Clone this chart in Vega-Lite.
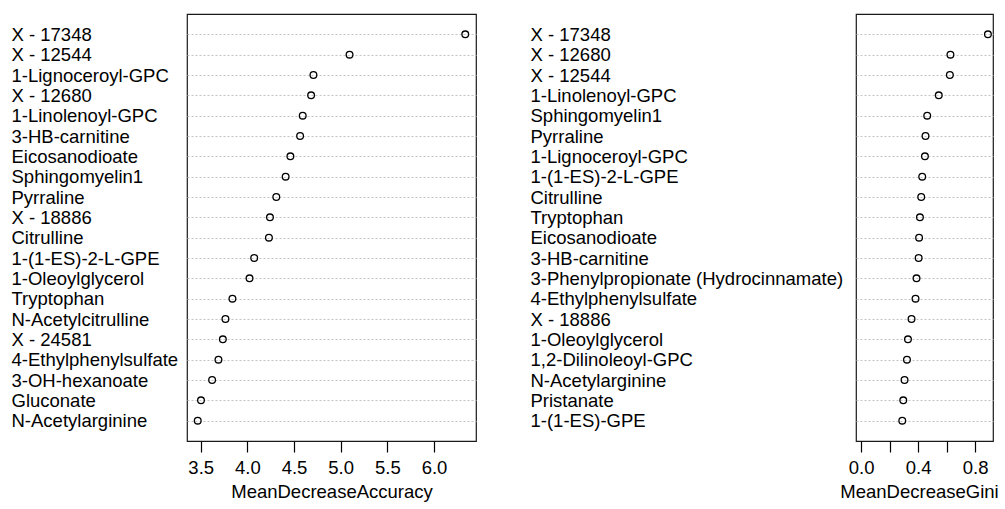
{
  "$schema": "https://vega.github.io/schema/vega-lite/v6.json",
  "padding": {"left": 10, "top": 13, "right": 0, "bottom": 0},
  "spacing": 52,
  "config": {
    "font": "Liberation Sans",
    "view": {"stroke": "#1a1a1a", "strokeWidth": 1.2},
    "axis": {
      "labelFont": "Liberation Sans",
      "titleFont": "Liberation Sans",
      "labelColor": "#000000",
      "titleColor": "#000000",
      "labelFontSize": 18.5,
      "titleFontSize": 18.5,
      "titleFontWeight": "normal",
      "labelLimit": 0
    }
  },
  "datasets": {
    "accuracy": [
      {"variable": "X - 17348", "MeanDecreaseAccuracy": 6.335},
      {"variable": "X - 12544", "MeanDecreaseAccuracy": 5.095},
      {"variable": "1-Lignoceroyl-GPC", "MeanDecreaseAccuracy": 4.708},
      {"variable": "X - 12680", "MeanDecreaseAccuracy": 4.683},
      {"variable": "1-Linolenoyl-GPC", "MeanDecreaseAccuracy": 4.593},
      {"variable": "3-HB-carnitine", "MeanDecreaseAccuracy": 4.565},
      {"variable": "Eicosanodioate", "MeanDecreaseAccuracy": 4.461},
      {"variable": "Sphingomyelin1", "MeanDecreaseAccuracy": 4.41},
      {"variable": "Pyrraline", "MeanDecreaseAccuracy": 4.31},
      {"variable": "X - 18886", "MeanDecreaseAccuracy": 4.242},
      {"variable": "Citrulline", "MeanDecreaseAccuracy": 4.231},
      {"variable": "1-(1-ES)-2-L-GPE", "MeanDecreaseAccuracy": 4.073},
      {"variable": "1-Oleoylglycerol", "MeanDecreaseAccuracy": 4.023},
      {"variable": "Tryptophan", "MeanDecreaseAccuracy": 3.84},
      {"variable": "N-Acetylcitrulline", "MeanDecreaseAccuracy": 3.765},
      {"variable": "X - 24581", "MeanDecreaseAccuracy": 3.737},
      {"variable": "4-Ethylphenylsulfate", "MeanDecreaseAccuracy": 3.69},
      {"variable": "3-OH-hexanoate", "MeanDecreaseAccuracy": 3.622},
      {"variable": "Gluconate", "MeanDecreaseAccuracy": 3.503},
      {"variable": "N-Acetylarginine", "MeanDecreaseAccuracy": 3.468}
    ],
    "gini": [
      {"variable": "X - 17348", "MeanDecreaseGini": 0.89},
      {"variable": "X - 12680", "MeanDecreaseGini": 0.627},
      {"variable": "X - 12544", "MeanDecreaseGini": 0.623},
      {"variable": "1-Linolenoyl-GPC", "MeanDecreaseGini": 0.545},
      {"variable": "Sphingomyelin1", "MeanDecreaseGini": 0.464},
      {"variable": "Pyrraline", "MeanDecreaseGini": 0.452},
      {"variable": "1-Lignoceroyl-GPC", "MeanDecreaseGini": 0.448},
      {"variable": "1-(1-ES)-2-L-GPE", "MeanDecreaseGini": 0.429},
      {"variable": "Citrulline", "MeanDecreaseGini": 0.422},
      {"variable": "Tryptophan", "MeanDecreaseGini": 0.413},
      {"variable": "Eicosanodioate", "MeanDecreaseGini": 0.407},
      {"variable": "3-HB-carnitine", "MeanDecreaseGini": 0.404},
      {"variable": "3-Phenylpropionate (Hydrocinnamate)", "MeanDecreaseGini": 0.389},
      {"variable": "4-Ethylphenylsulfate", "MeanDecreaseGini": 0.382},
      {"variable": "X - 18886", "MeanDecreaseGini": 0.354},
      {"variable": "1-Oleoylglycerol", "MeanDecreaseGini": 0.329},
      {"variable": "1,2-Dilinoleoyl-GPC", "MeanDecreaseGini": 0.322},
      {"variable": "N-Acetylarginine", "MeanDecreaseGini": 0.305},
      {"variable": "Pristanate", "MeanDecreaseGini": 0.296},
      {"variable": "1-(1-ES)-GPE", "MeanDecreaseGini": 0.289}
    ]
  },
  "hconcat": [
    {
      "width": 289,
      "height": 427,
      "data": {"name": "accuracy"},
      "mark": {"type": "point", "shape": "circle", "filled": false, "size": 45, "stroke": "#000000", "strokeWidth": 1.3, "opacity": 1},
      "encoding": {
        "x": {
          "field": "MeanDecreaseAccuracy",
          "type": "quantitative",
          "scale": {"domain": [3.353, 6.45], "nice": false, "zero": false},
          "axis": {
            "values": [3.5, 4.0, 4.5, 5.0, 5.5, 6.0],
            "format": ".1f",
            "grid": false,
            "domain": false,
            "tickColor": "#000000",
            "tickSize": 11,
            "tickWidth": 1.2,
            "labelPadding": 6,
            "title": "MeanDecreaseAccuracy",
            "titlePadding": 6
          }
        },
        "y": {
          "field": "variable",
          "type": "nominal",
          "sort": "-x",
          "scale": {"type": "point", "padding": 1},
          "axis": {
            "title": null,
            "ticks": false,
            "tickSize": 0,
            "domain": false,
            "labelAlign": "left",
            "labelBaseline": "middle",
            "labelPadding": 176,
            "grid": true,
            "gridColor": "#c4c4c4",
            "gridDash": [2, 2],
            "gridWidth": 1
          }
        }
      }
    },
    {
      "width": 137,
      "height": 427,
      "data": {"name": "gini"},
      "mark": {"type": "point", "shape": "circle", "filled": false, "size": 45, "stroke": "#000000", "strokeWidth": 1.3, "opacity": 1},
      "encoding": {
        "x": {
          "field": "MeanDecreaseGini",
          "type": "quantitative",
          "scale": {"domain": [-0.0356, 0.9256], "nice": false, "zero": false},
          "axis": {
            "values": [0, 0.2, 0.4, 0.6, 0.8],
            "labelExpr": "round(datum.value * 10) % 4 == 0 ? format(datum.value, '.1f') : ''",
            "grid": false,
            "domain": false,
            "tickColor": "#000000",
            "tickSize": 11,
            "tickWidth": 1.2,
            "labelPadding": 6,
            "title": "MeanDecreaseGini",
            "titlePadding": 6,
            "titleX": 63
          }
        },
        "y": {
          "field": "variable",
          "type": "nominal",
          "sort": "-x",
          "scale": {"type": "point", "padding": 1},
          "axis": {
            "title": null,
            "ticks": false,
            "tickSize": 0,
            "domain": false,
            "labelAlign": "left",
            "labelBaseline": "middle",
            "labelPadding": 326,
            "grid": true,
            "gridColor": "#c4c4c4",
            "gridDash": [2, 2],
            "gridWidth": 1
          }
        }
      }
    }
  ]
}
